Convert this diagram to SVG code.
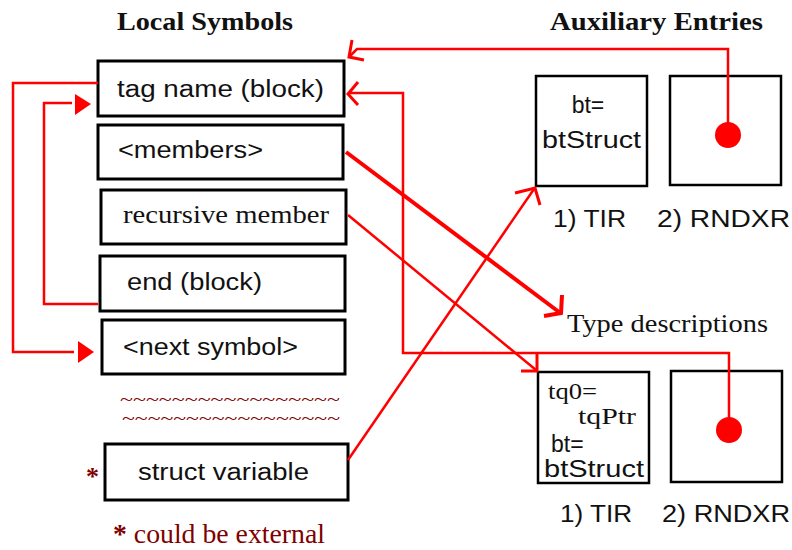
<svg xmlns="http://www.w3.org/2000/svg" width="792" height="550" viewBox="0 0 792 550">
<style>
.box{fill:#fff;stroke:#000;stroke-width:3}
.abox{fill:#fff;stroke:#000;stroke-width:2.5}
.t{font-family:"Liberation Sans",Arial,sans-serif;font-size:23px;fill:#111}
.s{font-family:"Liberation Serif","Times New Roman",serif;fill:#111}
.title{font-family:"Liberation Serif","Times New Roman",serif;font-weight:bold;font-size:25px;fill:#111}
.dr{font-family:"Liberation Serif","Times New Roman",serif;fill:#800000}
.ln{fill:none;stroke:#f00;stroke-width:2.5}
.thick{fill:none;stroke:#f00;stroke-width:4}
.head{fill:none;stroke:#f00;stroke-width:3}
.tri{fill:#f00;stroke:none}
</style>
<rect width="792" height="550" fill="#fff"/>
<text class="title" x="117" y="30" textLength="176" lengthAdjust="spacingAndGlyphs">Local Symbols</text>
<text class="title" x="550" y="30" textLength="213" lengthAdjust="spacingAndGlyphs">Auxiliary Entries</text>

<g id="tag-name">
<rect class="box" x="98" y="61" width="246" height="55"/>
<text class="t" x="117" y="97" textLength="207" lengthAdjust="spacingAndGlyphs">tag name (block)</text>
</g>
<g id="members">
<rect class="box" x="98" y="125" width="245" height="54"/>
<text class="t" x="118" y="158" textLength="145" lengthAdjust="spacingAndGlyphs">&lt;members&gt;</text>
</g>
<g id="recursive-member">
<rect class="box" x="101" y="190" width="245" height="54"/>
<text class="s" x="123" y="223" font-size="26" textLength="206" lengthAdjust="spacingAndGlyphs">recursive member</text>
</g>
<g id="end-block">
<rect class="box" x="100" y="256" width="245" height="55"/>
<text class="t" x="127" y="290" textLength="135" lengthAdjust="spacingAndGlyphs">end (block)</text>
</g>
<g id="next-symbol">
<rect class="box" x="102" y="320" width="243" height="54"/>
<text class="t" x="123" y="355" textLength="175" lengthAdjust="spacingAndGlyphs">&lt;next symbol&gt;</text>
</g>
<g id="ellipsis">
<text class="dr" x="120" y="405" font-size="17" textLength="220" lengthAdjust="spacingAndGlyphs">~~~~~~~~~~~~~~~~~</text>
<text class="dr" x="122" y="424" font-size="17" textLength="218" lengthAdjust="spacingAndGlyphs">~~~~~~~~~~~~~~~~~</text>
</g>
<g id="struct-variable">
<rect class="box" x="105" y="444" width="243" height="56"/>
<text class="t" x="138" y="480" textLength="171" lengthAdjust="spacingAndGlyphs">struct variable</text>
<text class="dr" x="86" y="485" font-size="26" font-weight="bold">*</text>
</g>
<g id="footnote">
<text class="dr" x="113" y="543" font-size="27" textLength="212" lengthAdjust="spacingAndGlyphs"><tspan font-weight="bold">*</tspan> could be external</text>
</g>

<g id="tir-top">
<rect class="abox" x="536" y="76" width="111" height="110"/>
<text class="t" x="588" y="113" text-anchor="middle">bt=</text>
<text class="t" x="542" y="148" textLength="99" lengthAdjust="spacingAndGlyphs">btStruct</text>
<text class="t" x="553" y="227" textLength="73" lengthAdjust="spacingAndGlyphs">1) TIR</text>
</g>
<g id="rndxr-top">
<rect class="abox" x="670" y="76" width="111" height="109"/>
<circle cx="728" cy="135" r="13" fill="#f00"/>
<text class="t" x="657" y="227" textLength="133" lengthAdjust="spacingAndGlyphs">2) RNDXR</text>
</g>
<g id="type-descriptions">
<text class="s" x="567" y="332" font-size="26" textLength="201" lengthAdjust="spacingAndGlyphs">Type descriptions</text>
</g>
<g id="tir-bottom">
<rect class="abox" x="538" y="372" width="111" height="111"/>
<text class="s" x="548" y="399" font-size="23" textLength="49" lengthAdjust="spacingAndGlyphs">tq0=</text>
<text class="s" x="578" y="424" font-size="24" textLength="58" lengthAdjust="spacingAndGlyphs">tqPtr</text>
<text class="t" x="551" y="452">bt=</text>
<text class="t" x="544" y="477" textLength="100" lengthAdjust="spacingAndGlyphs">btStruct</text>
<text class="t" x="560" y="522" textLength="72" lengthAdjust="spacingAndGlyphs">1) TIR</text>
</g>
<g id="rndxr-bottom">
<rect class="abox" x="671" y="371" width="111" height="111"/>
<circle cx="729" cy="430" r="13" fill="#f00"/>
<text class="t" x="662" y="522" textLength="128" lengthAdjust="spacingAndGlyphs">2) RNDXR</text>
</g>

<g id="connectors">
<polyline class="ln" points="98,83 13,83 13,352 74,352"/>
<polygon class="tri" points="78,341 94,352 78,363"/>
<polyline class="ln" points="98,304 44,304 44,103 72,103"/>
<polygon class="tri" points="75,94 91,104 75,115"/>
<polyline class="ln" points="728,135 728,49 357,49 349,57"/>
<polyline class="head" points="352,40 349,57 364,60"/>
<polyline class="ln" points="729,430 729,353 403,353 403,93 350,93"/>
<polyline class="head" points="358,82 348,94 358,105"/>
<line class="thick" x1="346" y1="152" x2="559" y2="312"/>
<polyline class="head" points="562,295 561,313 544,316" style="stroke-width:4"/>
<line class="ln" x1="348" y1="215" x2="536" y2="370"/>
<polyline class="head" points="537,354 537,371 521,371"/>
<line class="ln" x1="348" y1="460" x2="534" y2="189"/>
<polyline class="head" points="515,193 535,188 540,205"/>
</g>
</svg>
